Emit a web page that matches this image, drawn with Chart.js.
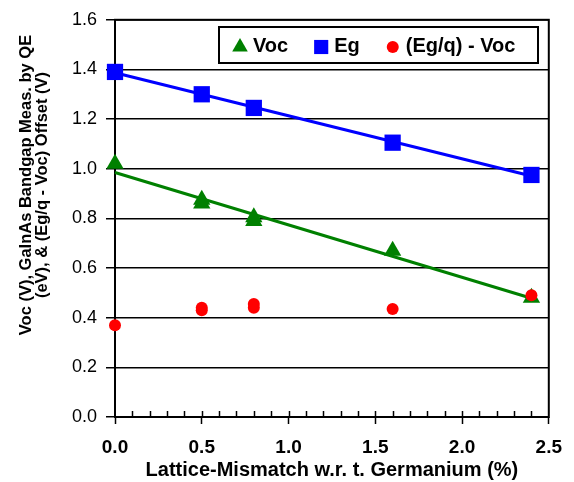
<!DOCTYPE html>
<html>
<head>
<meta charset="utf-8">
<script src="https://cdn.jsdelivr.net/npm/chart.js@4/dist/chart.umd.min.js"></script>
<style>
  html, body { margin: 0; padding: 0; background: #fff; }
</style>
</head>
<body>
<canvas id="bandgapChart" width="574" height="482"></canvas>
<script>
const FONT = "'Liberation Sans', Arial, Helvetica, sans-serif";

// lattice mismatch w.r.t. Ge (%) for each measured cell
const vocMismatch = [0, 0.5, 0.5, 0.8, 0.8, 1.6, 2.4];
const egMismatch = [0, 0.5, 0.8, 1.6, 2.4];
const offsetMismatch = [0, 0.5, 0.5, 0.8, 0.8, 1.6, 2.4];

// measured values
const vocValues = [1.02, 0.875, 0.86, 0.805, 0.79, 0.67, 0.48];     // V
const egValues = [1.39, 1.30, 1.245, 1.105, 0.975];                  // eV
const offsetValues = [0.37, 0.44, 0.43, 0.455, 0.44, 0.435, 0.49];   // V

const xTickValues = [0, 0.5, 1.0, 1.5, 2.0, 2.5];
const yTickValues = [0, 0.2, 0.4, 0.6, 0.8, 1.0, 1.2, 1.4, 1.6];

const xTitle = 'Lattice-Mismatch w.r. t. Germanium (%)';
const yTitle = ['Voc (V), GaInAs Bandgap Meas. by QE', '(eV), & (Eg/q - Voc) Offset (V)'];

const GREEN = '#008000', BLUE = '#0000ff', RED = '#ff0000';

function points(xs, ys) {
  return xs.map((x, i) => ({ x: x, y: ys[i] }));
}

// least-squares straight line over the range of the data
function trendline(xs, ys) {
  const n = xs.length;
  const mx = xs.reduce((a, b) => a + b, 0) / n;
  const my = ys.reduce((a, b) => a + b, 0) / n;
  let sxy = 0, sxx = 0;
  xs.forEach((x, i) => { sxy += (x - mx) * (ys[i] - my); sxx += (x - mx) * (x - mx); });
  const slope = sxy / sxx;
  const x0 = Math.min(...xs), x1 = Math.max(...xs);
  return [{ x: x0, y: my + slope * (x0 - mx) }, { x: x1, y: my + slope * (x1 - mx) }];
}

const frameAndLegend = {
  id: 'frameAndLegend',
  beforeDatasetsDraw(chart) {
    const { ctx, chartArea: a, scales: { x } } = chart;
    ctx.save();
    ctx.strokeStyle = '#000';
    ctx.lineWidth = 2;
    ctx.strokeRect(a.left, a.top, a.right - a.left, a.bottom - a.top);
    // small inward ticks every 0.1 on the x axis
    ctx.lineWidth = 1.5;
    for (let i = 1; i < 25; i++) {
      const px = Math.round(x.getPixelForValue(i / 10)) + 0.5;
      ctx.beginPath();
      ctx.moveTo(px, a.bottom);
      ctx.lineTo(px, a.bottom - 6);
      ctx.stroke();
    }
    ctx.restore();
  },
  afterDraw(chart) {
    const ctx = chart.ctx;
    ctx.save();

    // y axis title, two lines
    ctx.translate(26, 185);
    ctx.rotate(-Math.PI / 2);
    ctx.fillStyle = '#000';
    ctx.font = 'bold 16.5px ' + FONT;
    ctx.textAlign = 'center';
    ctx.textBaseline = 'middle';
    ctx.fillText(yTitle[0], 0, 0);
    ctx.fillText(yTitle[1], 0, 16.5);
    ctx.restore();

    // legend box
    ctx.save();
    ctx.fillStyle = '#fff';
    ctx.fillRect(219, 27, 319, 36);
    ctx.strokeStyle = '#000';
    ctx.lineWidth = 2;
    ctx.strokeRect(219, 27, 319, 36);
    ctx.font = 'bold 20px ' + FONT;
    ctx.textBaseline = 'middle';
    ctx.textAlign = 'left';
    let cx = 231;
    const cy = 46;
    chart.data.datasets.filter(d => d.inLegend).forEach(d => {
      ctx.fillStyle = d.backgroundColor;
      ctx.strokeStyle = d.backgroundColor;
      Chart.helpers.drawPoint(ctx, { pointStyle: d.pointStyle, radius: d.legendRadius, rotation: 0, borderWidth: 0 }, cx + 9, cy + 1);
      ctx.fillStyle = '#000';
      ctx.fillText(d.label, cx + 22, cy);
      cx += 22 + ctx.measureText(d.label).width + 24;
    });
    ctx.restore();
  }
};

new Chart(document.getElementById('bandgapChart'), {
  type: 'scatter',
  data: {
    datasets: [
      {
        label: 'Voc',
        inLegend: true,
        data: points(vocMismatch, vocValues),
        pointStyle: 'triangle',
        pointRadius: 10,
        legendRadius: 9,
        backgroundColor: GREEN,
        borderColor: GREEN,
        borderWidth: 0,
        order: 3
      },
      {
        label: 'Eg',
        inLegend: true,
        data: points(egMismatch, egValues),
        pointStyle: 'rect',
        pointRadius: 11.5,
        legendRadius: 10,
        backgroundColor: BLUE,
        borderColor: BLUE,
        borderWidth: 0,
        order: 2
      },
      {
        label: '(Eg/q) - Voc',
        inLegend: true,
        data: points(offsetMismatch, offsetValues),
        pointStyle: 'circle',
        pointRadius: 6,
        legendRadius: 6,
        backgroundColor: RED,
        borderColor: RED,
        borderWidth: 0,
        order: 1
      },
      {
        label: 'Voc fit',
        data: trendline(vocMismatch, vocValues),
        showLine: true,
        pointRadius: 0,
        borderColor: GREEN,
        borderWidth: 3,
        order: 5
      },
      {
        label: 'Eg fit',
        data: trendline(egMismatch, egValues),
        showLine: true,
        pointRadius: 0,
        borderColor: BLUE,
        borderWidth: 3,
        order: 4
      }
    ]
  },
  options: {
    responsive: false,
    animation: false,
    events: [],
    clip: false,
    layout: { padding: { top: 15, right: 22, left: 0, bottom: 0 } },
    plugins: {
      legend: { display: false },
      tooltip: { enabled: false }
    },
    scales: {
      x: {
        type: 'linear',
        min: 0,
        max: 2.5,
        afterBuildTicks: s => { s.ticks = xTickValues.map(v => ({ value: v })); },
        afterFit: s => { s.height = 65; },
        border: { display: false },
        grid: { drawOnChartArea: false, drawTicks: true, tickLength: 7, tickColor: '#000', tickWidth: 1.5 },
        ticks: {
          autoSkip: false,
          maxRotation: 0,
          padding: 12,
          color: '#000',
          font: { family: FONT, size: 19, weight: 'bold' },
          callback: v => Number(v).toFixed(1)
        },
        title: {
          display: true,
          text: xTitle,
          color: '#000',
          font: { family: FONT, size: 20, weight: 'bold', lineHeight: 1 },
          padding: { top: 0, bottom: 2 }
        }
      },
      y: {
        type: 'linear',
        min: 0,
        max: 1.6,
        afterBuildTicks: s => { s.ticks = yTickValues.map(v => ({ value: v })); },
        afterFit: s => { s.width = 115; },
        border: { display: false },
        grid: { color: '#000', lineWidth: 1.5, drawTicks: true, tickLength: 9, tickColor: '#000', tickWidth: 1.5 },
        ticks: {
          padding: 9,
          color: '#000',
          font: { family: FONT, size: 18 },
          callback: v => Number(v).toFixed(1)
        }
      }
    }
  },
  plugins: [frameAndLegend]
});
</script>
</body>
</html>
